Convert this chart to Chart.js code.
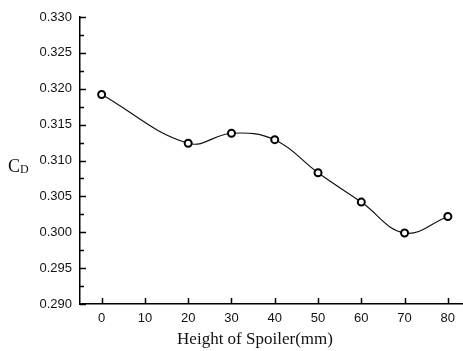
<!DOCTYPE html>
<html>
<head>
<meta charset="utf-8">
<script src="https://cdn.jsdelivr.net/npm/chart.js@4.4.1/dist/chart.umd.min.js"></script>
<style>
  html, body { margin: 0; padding: 0; background: #fff; }
  #wrap { width: 463px; height: 351px; }
</style>
</head>
<body>
<div id="wrap"><canvas id="c" width="463" height="351"></canvas></div>
<script>
const heights = [0, 20, 30, 40, 50, 60, 70, 80];
const cdValues = [0.3192, 0.3124, 0.3138, 0.3129, 0.3083, 0.3042, 0.2999, 0.3022];
const xTickValues = [0, 10, 20, 30, 40, 50, 60, 70, 80];
const yTickValues = [0.290, 0.295, 0.300, 0.305, 0.310, 0.315, 0.320, 0.325, 0.330];
const xTitle = 'Height of Spoiler(mm)';
const yTitleMain = 'C';
const yTitleSub = 'D';

const inwardTicks = {
  id: 'inwardTicks',
  afterDatasetsDraw(chart) {
    const ctx = chart.ctx;
    const xs = chart.scales.x, ys = chart.scales.y;
    const area = chart.chartArea;
    ctx.save();
    ctx.strokeStyle = '#000';
    ctx.lineWidth = 1.5;
    ctx.beginPath();
    for (let i = 0; i < yTickValues.length; i++) {
      const py = Math.round(ys.getPixelForValue(yTickValues[i])) + 0.5;
      ctx.moveTo(area.left, py); ctx.lineTo(area.left + 6, py);
      if (i < yTickValues.length - 1) {
        const mid = (yTickValues[i] + yTickValues[i + 1]) / 2;
        const pm = Math.round(ys.getPixelForValue(mid)) + 0.5;
        ctx.moveTo(area.left, pm); ctx.lineTo(area.left + 4, pm);
      }
    }
    for (const v of xTickValues) {
      const px = Math.round(xs.getPixelForValue(v)) + 0.5;
      ctx.moveTo(px, area.bottom); ctx.lineTo(px, area.bottom - 6);
    }
    ctx.stroke();
    ctx.fillStyle = '#111';
    ctx.font = '13px "Liberation Sans", Arial, sans-serif';
    ctx.textAlign = 'center';
    ctx.textBaseline = 'middle';
    for (const v of xTickValues) {
      ctx.fillText(String(v), xs.getPixelForValue(v), area.bottom + 14);
    }
    ctx.textBaseline = 'alphabetic';
    ctx.font = '17px "Liberation Serif", "Times New Roman", serif';
    ctx.textAlign = 'center';
    ctx.fillText(xTitle, 255, 344);
    ctx.textAlign = 'left';
    ctx.font = '18px "Liberation Serif", "Times New Roman", serif';
    ctx.fillText(yTitleMain, 8, 172);
    const w = ctx.measureText(yTitleMain).width;
    ctx.font = '12px "Liberation Serif", "Times New Roman", serif';
    ctx.fillText(yTitleSub, 8 + w, 173);
    ctx.restore();
  }
};

new Chart(document.getElementById('c'), {
  type: 'line',
  data: {
    datasets: [{
      data: heights.map((h, i) => ({ x: h, y: cdValues[i] })),
      borderColor: '#111',
      borderWidth: 1.2,
      tension: 0.4,
      pointRadius: 3.5,
      pointBorderWidth: 2,
      pointBackgroundColor: '#fff',
      pointBorderColor: '#000',
      fill: false
    }]
  },
  options: {
    responsive: false,
    animation: false,
    devicePixelRatio: 1,
    layout: { autoPadding: false, padding: { top: 17, right: 0, left: 0, bottom: 0 } },
    plugins: { legend: { display: false }, tooltip: { enabled: false } },
    scales: {
      x: {
        type: 'linear',
        min: -5,
        max: 83.5,
        afterBuildTicks: s => { s.ticks = xTickValues.map(v => ({ value: v })); },
        afterFit: s => { s.height = 47; },
        grid: { display: true, drawOnChartArea: false, drawTicks: false, tickLength: 0 },
        border: { display: true, color: '#000', width: 1.5 },
        ticks: { display: false }
      },
      y: {
        min: 0.290,
        max: 0.330,
        afterBuildTicks: s => { s.ticks = yTickValues.map(v => ({ value: v })); },
        afterFit: s => { s.width = 80; },
        grid: { display: true, drawOnChartArea: false, drawTicks: false, tickLength: 0 },
        border: { display: true, color: '#000', width: 1.5 },
        ticks: {
          padding: 8,
          color: '#111',
          font: { family: '"Liberation Sans", Arial, sans-serif', size: 13 },
          callback: v => Number(v).toFixed(3),
          autoSkip: false
        }
      }
    }
  },
  plugins: [inwardTicks]
});
</script>
</body>
</html>
